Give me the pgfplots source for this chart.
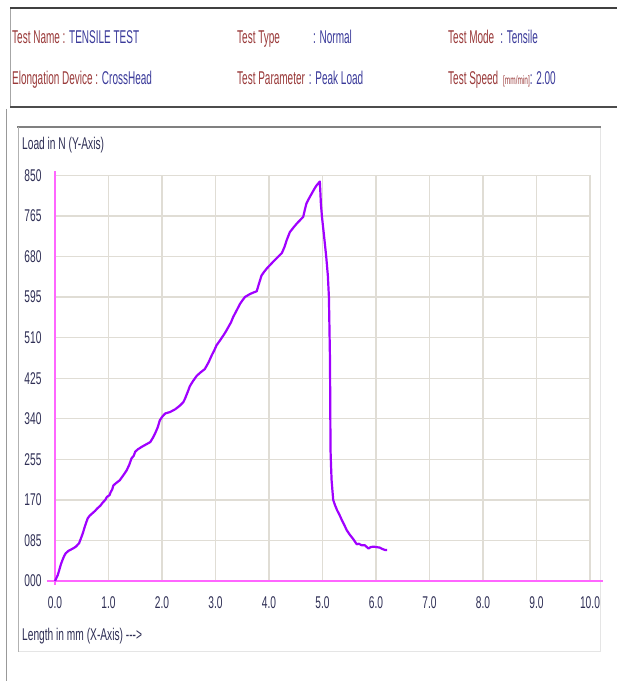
\documentclass[border=0pt]{standalone}
\usepackage{fontspec}
\setmainfont{Liberation Sans}[FakeStretch=0.54]
\newfontfamily\tickfont{Liberation Sans}[FakeStretch=0.6]
\usepackage{pgfplots}
\pgfplotsset{compat=1.18}
\definecolor{lab}{HTML}{9A3A3A}
\definecolor{val}{HTML}{3A3A9A}
\definecolor{tickc}{HTML}{2F2F55}
\definecolor{gridc}{HTML}{E0DDD5}
\definecolor{axmag}{HTML}{FF66FF}
\definecolor{curve}{HTML}{A000FF}
\newcommand{\hf}{\fontsize{18.5}{20}\selectfont}
\newcommand{\tf}{\tickfont\fontsize{17}{19}\selectfont}
\begin{document}
\begin{tikzpicture}
\begin{scope}[x=1pt,y=1pt]
\path[use as bounding box] (0,0) rectangle (617,681);
\fill[white] (0,0) rectangle (617,681);
% header frame
\draw[black!35, line width=1pt] (10,673) -- (10,574);
\draw[black!75, line width=2pt] (10,673) -- (617,673);
\draw[black!70, line width=2pt] (10,574) -- (617,574);
\draw[black!40, line width=1pt] (6,572) -- (6,0);
% chart frame
\draw[black!10, line width=1pt] (18,29) -- (600,29) -- (600,554);
\draw[black!50, line width=2.5pt] (17,554) -- (601,554);
\draw[black!30, line width=1pt] (18,554) -- (18,29);
% header text
\node[anchor=base west, inner sep=0pt, font=\hf] at (12,637) {\textcolor{lab}{Test Name :} \textcolor{val}{TENSILE TEST}};
\node[anchor=base west, inner sep=0pt, font=\hf] at (237,637) {\textcolor{lab}{Test Type}};
\node[anchor=base west, inner sep=0pt, font=\hf] at (313,637) {\textcolor{val}{: Normal}};
\node[anchor=base west, inner sep=0pt, font=\hf] at (448,637) {\textcolor{lab}{Test Mode}\hspace{6pt}\textcolor{val}{: Tensile}};
\node[anchor=base west, inner sep=0pt, font=\hf] at (12,596) {\textcolor{lab}{Elongation Device :} \textcolor{val}{CrossHead}};
\node[anchor=base west, inner sep=0pt, font=\hf] at (237,596) {\textcolor{lab}{Test Parameter}\hspace{4pt}\textcolor{val}{: Peak Load}};
\node[anchor=base west, inner sep=0pt, font=\hf] at (448,596) {\textcolor{lab}{Test Speed}\hspace{5pt}\textcolor{lab}{\fontsize{12}{13}\selectfont[mm/min]}\textcolor{val}{: 2.00}};
% axis labels
\node[anchor=base west, inner sep=0pt, font=\tf, text=tickc] at (22,531) {Load in N (Y-Axis)};
\node[anchor=base west, inner sep=0pt, font=\tf, text=tickc] at (22,40) {Length in mm (X-Axis) ---{}>};
\end{scope}
\begin{axis}[
  at={(55pt,100pt)}, anchor=south west,
  scale only axis, width=535pt, height=405.7pt,
  xmin=0, xmax=10, ymin=0, ymax=850,
  axis line style={draw=none},
  tick style={draw=none},
  grid=major, grid style={gridc, line width=1.3pt},
  xtick={0,1,2,3,4,5,6,7,8,9,10},
  xticklabels={0.0,1.0,2.0,3.0,4.0,5.0,6.0,7.0,8.0,9.0,10.0},
  ytick={0,85,170,255,340,425,510,595,680,765,850},
  yticklabels={000,085,170,255,340,425,510,595,680,765,850},
  ticklabel style={font=\tf, text=tickc},
  xticklabel style={yshift=-12pt},
  yticklabel style={xshift=-10pt},
  clip=false,
]
\draw[axmag, line width=2.2pt] (axis cs:-0.15,0) -- (axis cs:10.25,0);
\draw[axmag, line width=1.6pt] (axis cs:0,-8) -- (axis cs:0,860);
\addplot[curve, line width=2.2pt, line join=round] coordinates {
(0,0) (0.05,12) (0.08,23) (0.11,35) (0.14,44) (0.17,52) (0.20,58) (0.25,63) (0.30,66) (0.35,69) (0.39,72) (0.45,79)
(0.48,88) (0.52,100) (0.56,115) (0.61,131) (0.65,137) (0.70,142) (0.75,147) (0.79,152) (0.85,158) (0.89,164)
(0.94,170) (0.97,176) (1.02,180) (1.04,186) (1.07,192) (1.09,200) (1.14,205) (1.21,211) (1.28,222) (1.34,232)
(1.39,244) (1.43,257) (1.47,262) (1.50,271) (1.55,276) (1.62,281) (1.70,286) (1.78,291) (1.83,300) (1.87,309)
(1.92,322) (1.96,337) (2.01,345) (2.06,351) (2.15,354) (2.25,360) (2.34,368) (2.40,375) (2.43,382) (2.48,396)
(2.52,408) (2.58,419) (2.65,430) (2.72,437) (2.80,444) (2.87,458) (2.93,473) (2.98,484) (3.02,494) (3.09,505)
(3.15,515) (3.20,524) (3.24,532) (3.29,542) (3.33,553) (3.40,568) (3.46,581) (3.51,589) (3.55,595) (3.64,601)
(3.70,604) (3.77,607) (3.81,622) (3.86,640) (3.91,648) (3.96,655) (4.02,662) (4.07,668) (4.15,677) (4.24,687)
(4.29,700) (4.33,714) (4.39,731) (4.46,741) (4.52,749) (4.58,756) (4.64,763) (4.67,778) (4.70,791) (4.75,802)
(4.80,812) (4.85,822) (4.89,829) (4.92,833) (4.95,837) (4.96,815) (4.97,790) (4.99,763) (5.03,722) (5.07,679)
(5.10,640) (5.12,595) (5.13,530) (5.14,463) (5.145,370) (5.15,274) (5.16,240) (5.17,211) (5.20,170) (5.23,160)
(5.27,149) (5.32,138) (5.36,128) (5.41,117) (5.45,107) (5.51,97) (5.58,87) (5.64,77) (5.68,78) (5.73,75)
(5.79,75) (5.83,71) (5.86,68) (5.90,71) (5.95,72) (6.01,71) (6.07,70) (6.12,67) (6.17,65) (6.21,65)
};
\end{axis}
\end{tikzpicture}
\end{document}
